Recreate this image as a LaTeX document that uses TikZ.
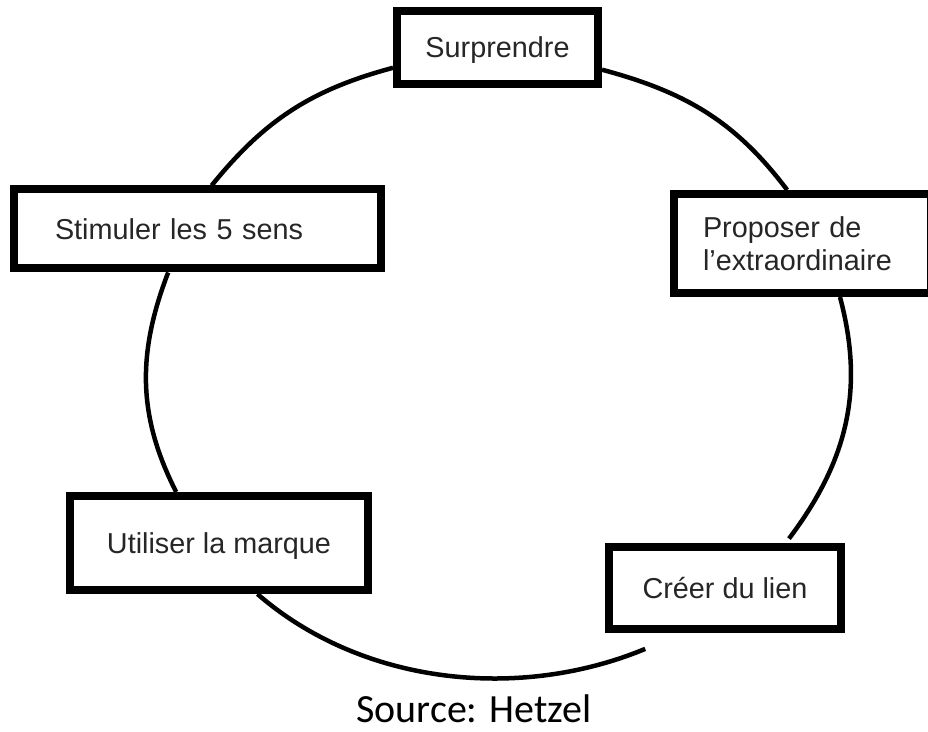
\documentclass[tikz,border=0pt]{standalone}
\usepackage{fontspec}
\setmainfont{Liberation Sans}
\newfontfamily\sourcefont{Carlito}

\begin{document}
\begin{tikzpicture}[x=1pt,y=1pt,
  etape/.style={rectangle,draw=black,line width=8pt,fill=white,inner sep=0pt,
    text=black!85,font=\fontsize{28.8}{33}\selectfont},
  anneau/.style={line width=4.5pt}]
  \useasboundingbox (0,0) rectangle (928,731);
  \node[etape,text depth=0pt,minimum width=201pt,minimum height=73pt] (sur) at (497.5,683.5){Surprendre};
  \node[etape,minimum height=79pt,text width=285pt,inner xsep=41pt,align=left] (sti) at (197.5,502){Stimuler les 5 sens};
  \node[etape,minimum height=99pt,text width=199pt,inner xsep=29pt,align=left] (pro) at (802.5,487.5){Proposer de\\l'extraordinaire};
  \node[etape,text depth=0pt,minimum width=298pt,minimum height=94pt] (uti) at (219,188){Utiliser la marque};
  \node[etape,minimum width=232pt,minimum height=82pt] (cre) at (725,143){Cr\'eer du lien};
  \node[font=\sourcefont\fontsize{40}{44}\selectfont,inner sep=0pt] (src) at (474,22){Source: Hetzel};
  \coordinate (finbas) at (645.2,82.1);
  \coordinate (findroite) at (789,192.4);
     \draw[anneau] (sur.191) to [out=195,in=51] (sti.72);
     \draw[anneau] (sti.236) to [out=249,in=117] (uti.130);
     \draw[anneau] (uti.307) to [out=-41,in=202.5,looseness=0.9] (finbas);
     \draw[anneau] (sur.348) to [out=-15,in=127] (pro.106);
     \draw[anneau] (pro.305) to [out=285,in=53] (findroite);
\end{tikzpicture}
\end{document}
